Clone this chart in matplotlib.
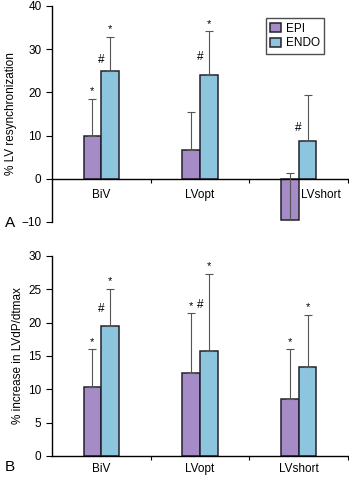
import numpy as np
import matplotlib
matplotlib.use('Agg')
import matplotlib.pyplot as plt

categories = ['BiV', 'LVopt', 'LVshort']

# panel A: % LV resynchronization
resync_epi = [9.8, 6.7, -9.5]
resync_epi_err = [8.7, 8.7, 10.8]
resync_endo = [24.9, 24.1, 8.8]
resync_endo_err = [7.9, 10.0, 10.6]

# panel B: % increase in LVdP/dtmax
dpdt_epi = [10.4, 12.5, 8.6]
dpdt_epi_err = [5.6, 8.9, 7.4]
dpdt_endo = [19.5, 15.8, 13.3]
dpdt_endo_err = [5.6, 11.5, 7.9]

# significance marks: stars above error bars (category, series), hashes (category, y)
resync_stars = [(0, 'epi'), (0, 'endo'), (1, 'endo')]
resync_hash = [(0, 27.6), (1, 28.3), (2, 11.7)]
dpdt_stars = [(0, 'epi'), (0, 'endo'), (1, 'epi'), (1, 'endo'), (2, 'epi'), (2, 'endo')]
dpdt_hash = [(0, 22.1), (1, 22.6)]

EPI_COLOR = '#a68cc6'
ENDO_COLOR = '#8ec5de'
EDGE = '#23202c'
ERR = '#555555'

plt.rcParams['font.family'] = ['Liberation Sans', 'DejaVu Sans']
plt.rcParams['font.size'] = 8.5

fig = plt.figure(figsize=(3.49, 4.8), dpi=100)
axA = fig.add_axes([0.149, 0.5375, 0.848, 0.45])
axB = fig.add_axes([0.149, 0.05, 0.848, 0.4167])

w = 0.18
x = np.arange(len(categories))


def draw(ax, epi, epi_err, endo, endo_err, stars, hashes, star_gap):
    ax.bar(x - w / 2, epi, w, color=EPI_COLOR, edgecolor=EDGE, linewidth=1.1, label='EPI', zorder=2)
    ax.bar(x + w / 2, endo, w, color=ENDO_COLOR, edgecolor=EDGE, linewidth=1.1, label='ENDO', zorder=2)
    # one-sided error bars, upward only
    ax.errorbar(x - w / 2, epi, yerr=[np.zeros(3), epi_err], fmt='none', ecolor=ERR,
                elinewidth=0.8, capsize=3, capthick=0.8, zorder=3)
    ax.errorbar(x + w / 2, endo, yerr=[np.zeros(3), endo_err], fmt='none', ecolor=ERR,
                elinewidth=0.8, capsize=3, capthick=0.8, zorder=3)
    for i, s in stars:
        if s == 'epi':
            xi, top = x[i] - w / 2, epi[i] + epi_err[i]
        else:
            xi, top = x[i] + w / 2, endo[i] + endo_err[i]
        ax.text(xi, top + star_gap, '*', ha='center', va='bottom', fontsize=8)
    for i, yv in hashes:
        ax.text(x[i], yv, '#', ha='center', va='center', fontsize=8.5)
    ax.spines['top'].set_visible(False)
    ax.spines['right'].set_visible(False)
    ax.spines['left'].set_linewidth(1.0)
    ax.spines['bottom'].set_linewidth(1.0)
    ax.set_xlim(-0.5, 2.5)
    ax.set_xticks([0.5, 1.5, 2.5])
    ax.set_xticklabels([])
    ax.tick_params(axis='x', length=3, width=0.8)
    ax.tick_params(axis='y', length=4, width=0.8, labelsize=8.5)


# panel A
draw(axA, resync_epi, resync_epi_err, resync_endo, resync_endo_err,
     resync_stars, resync_hash, 0.6)
axA.set_ylim(-10, 40)
axA.set_yticks([-10, 0, 10, 20, 30, 40])
axA.set_yticklabels(['\u221210', '0', '10', '20', '30', '40'])
axA.spines['bottom'].set_position(('data', 0))
axA.set_ylabel('% LV resynchronization', fontsize=8.5, labelpad=3)
label_x_A = [0, 1, 2.23]
for xi, name in zip(label_x_A, categories):
    axA.text(xi, -2.3, name, ha='center', va='top', fontsize=8.5)
axA.legend(loc='upper right', bbox_to_anchor=(0.94, 0.97), frameon=True, fancybox=False,
           edgecolor='#222222', fontsize=8.5, handlelength=1.0, handleheight=0.8,
           handletextpad=0.4, borderpad=0.35, labelspacing=0.25)
axA.get_legend().get_frame().set_linewidth(1.0)
fig.text(0.013, 0.535, 'A', fontsize=11, va='center', ha='left')

# panel B
draw(axB, dpdt_epi, dpdt_epi_err, dpdt_endo, dpdt_endo_err,
     dpdt_stars, dpdt_hash, 0.4)
axB.set_ylim(0, 30)
axB.set_yticks([0, 5, 10, 15, 20, 25, 30])
axB.set_ylabel('% increase in LVdP/dtmax', fontsize=8.5, labelpad=3)
for xi, name in zip(x, categories):
    axB.text(xi, -1.0, name, ha='center', va='top', fontsize=8.5)
fig.text(0.013, 0.027, 'B', fontsize=11, va='center', ha='left')

fig.savefig('out.png', dpi=100)
